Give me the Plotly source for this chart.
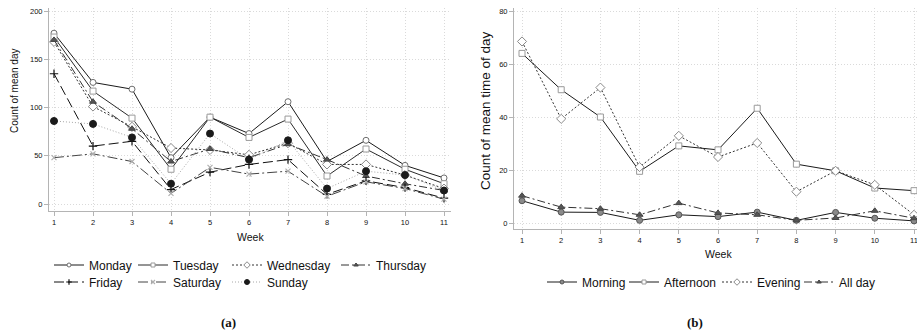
import plotly.graph_objects as go

W, H = 917, 334
FW = 925  # figure a few pixels wider than the window so the last tick label is drawn (clipped like the reference)

weeks = [1, 2, 3, 4, 5, 6, 7, 8, 9, 10, 11]

# Panel (a): count of mean day
monday    = [177, 126, 119, 48, 90, 73, 106, 44, 66, 40, 27]
tuesday   = [173, 117, 89, 36, 90, 69, 88, 29, 57, 36, 21]
wednesday = [168, 101, 80, 58, 56, 51, 63, 41, 41, 30, 16]
thursday  = [170, 106, 78, 44, 57, 48, 62, 46, 29, 21, 14]
friday    = [135, 60, 65, 15, 33, 41, 46, 10, 24, 17, 6]
saturday  = [48, 52, 44, 11, 38, 31, 34, 8, 23, 16, 5]
sunday    = [86, 83, 69, 21, 73, 46, 66, 16, 34, 30, 14]

# Panel (b): count of mean time of day
morning   = [8.4, 4.1, 4.0, 1.0, 3.1, 2.4, 4.1, 1.0, 4.0, 1.8, 0.8]
afternoon = [64.0, 50.3, 40.0, 19.5, 29.1, 27.6, 43.3, 22.2, 19.7, 13.2, 12.2]
evening   = [68.5, 39.3, 51.1, 21.1, 32.9, 24.9, 30.2, 11.8, 19.7, 14.4, 3.1]
allday    = [10.3, 6.0, 5.4, 3.1, 7.5, 3.8, 3.1, 1.0, 1.9, 4.6, 1.8]

yticks_a = [0, 50, 100, 150, 200]
yticks_b = [0, 20, 40, 60, 80]

fig = go.Figure()

def px(x):
    return x / FW

def py(y):
    return 1 - y / H

legfont = dict(size=12, color="#111", family="Liberation Sans")
leg_layout = {}
leg_count = [0]

def add(x, y, name, axis, text_x, row_y, lcolor, dash, symbol, mfill, mline, msize=6, mlw=1):
    xa = "x" if axis == 1 else "x2"
    ya = "y" if axis == 1 else "y2"
    fig.add_trace(go.Scatter(
        x=x, y=y, name=name, mode="lines+markers", xaxis=xa, yaxis=ya,
        showlegend=False,
        line=dict(color=lcolor, width=1, dash=dash),
        marker=dict(symbol=symbol, color=mfill, size=msize,
                    line=dict(color=mline, width=mlw)),
        hoverinfo="skip",
    ))
    leg_count[0] += 1
    lname = "legend" if leg_count[0] == 1 else "legend%d" % leg_count[0]
    fig.add_trace(go.Scatter(
        x=[None], y=[None], name=name, mode="lines+markers", xaxis=xa, yaxis=ya,
        showlegend=True, legend=lname,
        line=dict(color=lcolor, width=1, dash=dash),
        marker=dict(symbol=symbol, color=mfill, size=max(msize - 2, 4),
                    line=dict(color=mline, width=mlw)),
        hoverinfo="skip",
    ))
    leg_layout[lname] = dict(
        x=px(text_x - 40), y=py(row_y), xanchor="left", yanchor="middle",
        orientation="v", font=legfont, bgcolor="rgba(0,0,0,0)",
        itemwidth=30, borderwidth=0, itemclick=False, itemdoubleclick=False)

LDD = "8px,3px,2px,3px"
R1, R2, RB = 265, 282, 282
# panel a
add(weeks, monday, "Monday", 1, 89, R1, "#1a1a1a", "solid", "circle", "white", "#6e6e6e")
add(weeks, tuesday, "Tuesday", 1, 173, R1, "#2a2a2a", "solid", "square", "white", "#9a9a9a")
add(weeks, wednesday, "Wednesday", 1, 267, R1, "#333333", "2px,2px", "diamond", "white", "#8a8a8a", 7)
add(weeks, thursday, "Thursday", 1, 376, R1, "#333333", LDD, "triangle-up", "#555555", "#444444", 6)
add(weeks, friday, "Friday", 1, 89, R2, "#111111", "10px,4px", "cross-thin", "#111111", "#111111", 6, 1.2)
add(weeks, saturday, "Saturday", 1, 173, R2, "#444444", "10px,3px,2px,3px", "x-thin", "#b0b0b0", "#b0b0b0", 5, 1.2)
add(weeks, sunday, "Sunday", 1, 267, R2, "#a8a8a8", "1px,2px", "circle", "#1a1a1a", "#1a1a1a", 7)
# panel b
add(weeks, morning, "Morning", 2, 582, RB, "#1a1a1a", "solid", "circle", "#8a8a8a", "#555555", 6)
add(weeks, afternoon, "Afternoon", 2, 664, RB, "#1a1a1a", "solid", "square", "white", "#9a9a9a", 6)
add(weeks, evening, "Evening", 2, 757, RB, "#333333", "2px,2px", "diamond", "white", "#8a8a8a", 7)
add(weeks, allday, "All day", 2, 839, RB, "#333333", LDD, "triangle-up", "#555555", "#444444", 6)

axis_common = dict(
    showline=True, linecolor="#b4b4b4", linewidth=1,
    ticks="outside", ticklen=4, tickcolor="#b4b4b4", tickwidth=1,
    showgrid=True, gridcolor="#dadada", griddash="1px,2px", gridwidth=1,
    zeroline=False, tickfont=dict(size=7.5, color="#111", family="Liberation Sans"),
    fixedrange=True,
)

sa = 39.0
fig.update_layout(
    xaxis=dict(domain=[px(49), px(451)], range=[1 - 5 / sa, 11 + 7 / sa],
               tickvals=weeks, anchor="y", **axis_common),
    yaxis=dict(domain=[py(211), py(8)], range=[-7 / 0.965, 200 + 3 / 0.965],
               tickvals=yticks_a, anchor="x", **axis_common),
    xaxis2=dict(domain=[px(514), px(917)], range=[1 - 8 / 39.2, 11 + 3 / 39.2],
                tickvals=weeks, anchor="y2", **axis_common),
    yaxis2=dict(domain=[py(229), py(8)], range=[-6 / 2.65, 80 + 3 / 2.65],
                tickvals=yticks_b, anchor="x2", **axis_common),
)
fig.update_layout(**leg_layout)

ann = [
    dict(text="Week", x=px(250), y=py(237), font=dict(size=10.5)),
    dict(text="Week", x=px(718), y=py(254), font=dict(size=10.5)),
    dict(text="Count of mean day", x=px(14), y=py(91), textangle=-90, font=dict(size=10)),
    dict(text="Count of mean time of day", x=px(485), y=py(111), textangle=-90, font=dict(size=13.5)),
    dict(text="<b>(a)</b>", x=px(228), y=py(322), font=dict(size=13, family="Liberation Serif")),
    dict(text="<b>(b)</b>", x=px(695), y=py(322), font=dict(size=13, family="Liberation Serif")),
]
for a in ann:
    f = dict(family="Liberation Sans", color="#111")
    f.update(a.pop("font"))
    fig.add_annotation(xref="paper", yref="paper", showarrow=False,
                       xanchor="center", yanchor="middle", font=f, **a)

fig.update_layout(
    width=FW, height=H, margin=dict(l=0, r=0, t=0, b=0),
    paper_bgcolor="white", plot_bgcolor="white",
    font=dict(family="Liberation Sans", color="#111"),
    showlegend=True,
)

fig.write_html("out.html", config={"displayModeBar": False},
               post_script="document.body.style.margin='0';document.body.style.overflow='hidden';")
